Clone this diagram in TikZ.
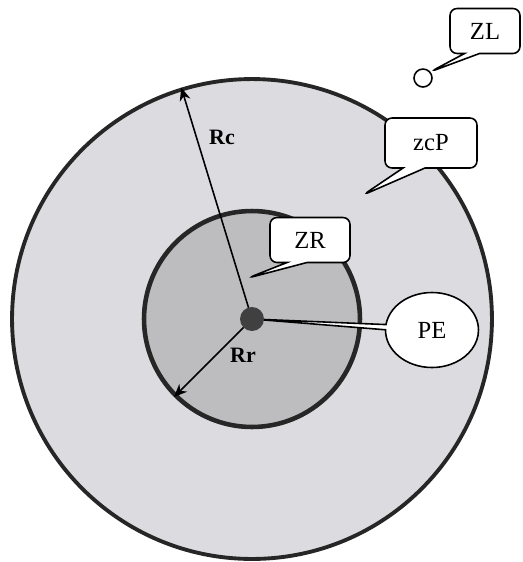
\documentclass[tikz,border=0pt]{standalone}
\usepackage{fontspec}
\setmainfont{Liberation Serif}
\usepackage{xcolor}
\usepackage{tikz}
\usetikzlibrary{shapes.geometric, shapes.callouts, arrows.meta, positioning}
\definecolor{zcpgray}{HTML}{DCDCE0}
\definecolor{zrgray}{HTML}{BDBDBF}
\definecolor{pegray}{HTML}{404040}

\begin{document}
\begin{tikzpicture}[
    x=0.02cm, y=-0.02cm,
    every node/.style={font=\fontsize{14}{16}\selectfont},
    zone/.style={circle, draw=black!85, inner sep=0pt},
    note/.style={rectangle callout, draw, line width=0.9pt, fill=white, rounded corners=4pt, inner sep=0pt, minimum width=1.6cm, minimum height=0.9cm},
    radarrow/.style={-{Stealth[length=2.6mm, width=2.2mm]}, line width=0.9pt},
    radlabel/.style={font=\fontsize{12.5}{14}\selectfont\bfseries}
]
\useasboundingbox (0,0) rectangle (523,562);

% Zones
\coordinate (c) at (252,319);
\node[zone, fill=zcpgray, line width=2.2pt, minimum size=9.6cm] (zcp) at (c) {};
\node[zone, fill=zrgray, line width=2.6pt, minimum size=4.32cm] (zr) at (c) {};

% Radii
\draw[radarrow] (c) -- (zcp.107);
\draw[radarrow] (c) -- (zr.225);
\node[radlabel] (rc) at (222,137) {Rc};
\node[radlabel] (rr) at (243,355) {Rr};

% Labels
\node[ellipse callout, draw, line width=0.9pt, fill=white, inner sep=0pt, minimum width=1.86cm, minimum height=1.5cm,
      callout absolute pointer={(c)}, callout pointer arc=8] (penote) at (432,330) {PE};
\node[circle, fill=pegray, minimum size=0.48cm, inner sep=0pt] (pe) at (c) {};
\node[circle, draw, line width=0.9pt, fill=white, minimum size=0.36cm, inner sep=0pt] (zl) at (423,78) {};

\node[note, callout absolute pointer={(zl.40)}, callout pointer width=0.3cm, minimum width=1.4cm] (zlnote) at (485,31) {ZL};
\node[note, callout absolute pointer={(363,195)}, callout pointer width=0.44cm, minimum width=1.84cm, minimum height=1cm] (zcpnote) at (431,143) {zcP};
\node[note, callout absolute pointer={(248,278)}, callout pointer width=0.4cm] (zrnote) at (310,240) {ZR};

\end{tikzpicture}
\end{document}
